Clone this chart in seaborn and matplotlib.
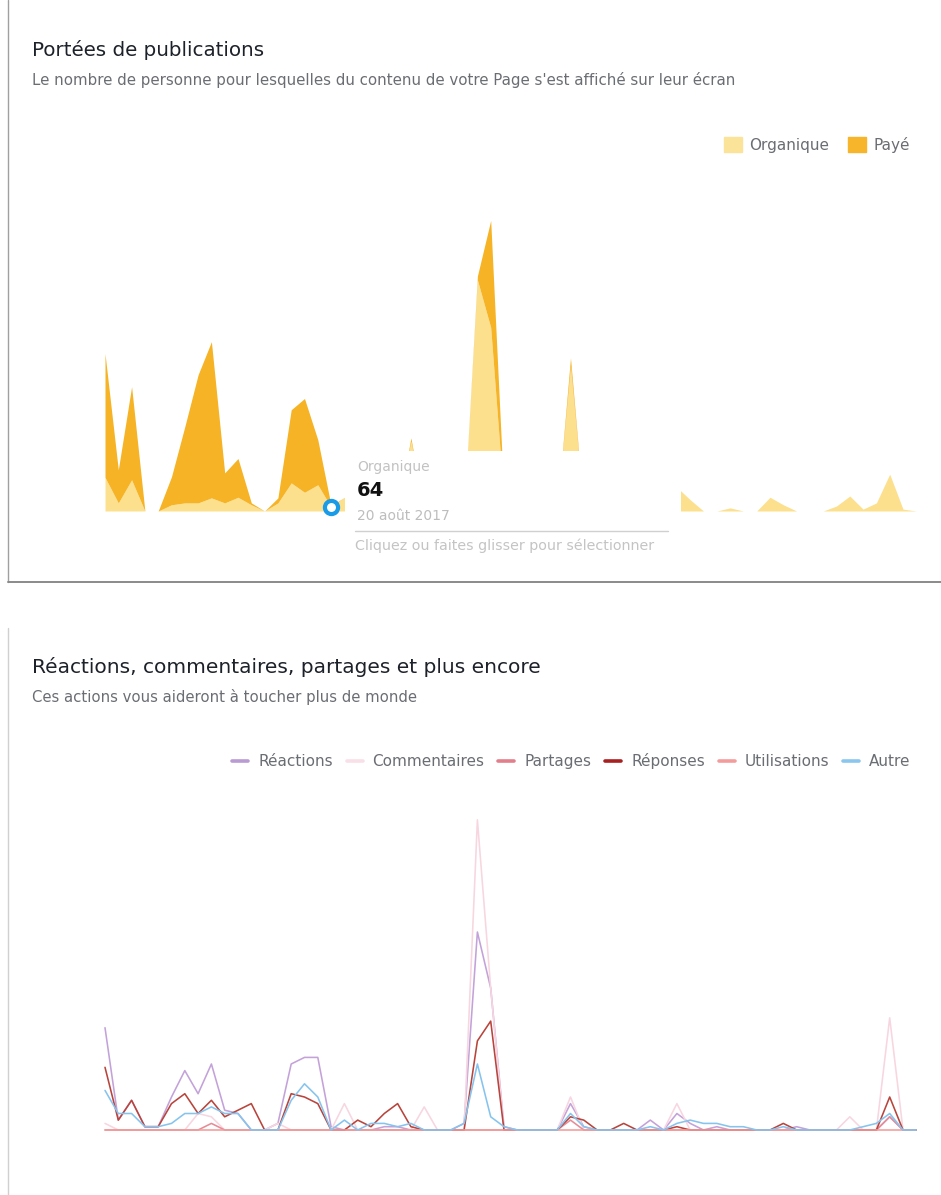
import numpy as np
import pandas as pd
import matplotlib.pyplot as plt
import seaborn as sns
from matplotlib.patches import Patch, Rectangle
from matplotlib.lines import Line2D

sns.set_theme(style='white')
plt.rcParams['font.family'] = ['DejaVu Sans']

# données (62 jours à partir du 3 août 2017)
jours = pd.date_range('2017-08-03', periods=62, freq='D')

# portée des publications (personnes)
organique = [540, 130, 500, 0, 0, 100, 130, 130, 210, 130,
             220, 100, 0, 130, 450, 300, 420, 64, 220, 0,
             0, 0, 0, 1120, 0, 0, 0, 0, 3700, 2940,
             160, 0, 0, 0, 0, 2320, 0, 0, 0, 0,
             0, 0, 0, 380, 180, 0, 0, 50, 0, 0,
             220, 100, 0, 0, 0, 80, 240, 30, 130, 590,
             30, 0]
paye = [1980, 530, 1490, 0, 0, 450, 1220, 2050, 2500, 480,
        620, 30, 0, 80, 1170, 1500, 720, 20, 0, 0,
        0, 0, 0, 50, 0, 0, 0, 0, 60, 1710,
        50, 0, 0, 0, 0, 130, 0, 0, 0, 0,
        0, 0, 0, 0, 0, 0, 0, 0, 0, 0,
        0, 0, 0, 0, 0, 0, 0, 0, 0, 0,
        0, 0]

# réactions, commentaires, partages...
reactions = [31, 3, 9, 1, 1, 10, 18, 11, 20, 6,
             5, 0, 0, 2, 20, 22, 22, 1, 0, 0,
             0, 1, 1, 0, 0, 0, 0, 2, 60, 43,
             1, 0, 0, 0, 0, 8, 1, 0, 0, 0,
             0, 3, 0, 5, 2, 0, 1, 0, 0, 0,
             0, 0, 1, 0, 0, 0, 0, 0, 0, 4,
             0, 0]
commentaires = [2, 0, 0, 0, 0, 0, 0, 5, 4, 0,
                0, 0, 0, 2, 0, 0, 0, 0, 8, 0,
                0, 0, 0, 0, 7, 0, 0, 0, 94, 43,
                0, 0, 0, 0, 0, 10, 0, 0, 0, 0,
                0, 0, 0, 8, 0, 0, 0, 0, 0, 0,
                0, 0, 0, 0, 0, 0, 4, 0, 0, 34,
                0, 0]
partages = [0, 0, 0, 0, 0, 0, 0, 0, 2, 0,
            0, 0, 0, 0, 0, 0, 0, 0, 0, 0,
            0, 0, 0, 0, 0, 0, 0, 0, 0, 0,
            0, 0, 0, 0, 0, 3, 0, 0, 0, 0,
            0, 0, 0, 0, 0, 0, 0, 0, 0, 0,
            0, 0, 0, 0, 0, 0, 0, 0, 0, 4,
            0, 0]
reponses = [19, 3, 9, 1, 1, 8, 11, 5, 9, 4,
            6, 8, 0, 0, 11, 10, 8, 0, 0, 3,
            1, 5, 8, 1, 0, 0, 0, 0, 27, 33,
            0, 0, 0, 0, 0, 4, 3, 0, 0, 2,
            0, 0, 0, 1, 0, 0, 0, 0, 0, 0,
            0, 2, 0, 0, 0, 0, 0, 0, 0, 10,
            0, 0]
utilisations = [0] * 62
autre = [12, 5, 5, 1, 1, 2, 5, 5, 7, 5,
         5, 0, 0, 0, 9, 14, 10, 0, 3, 0,
         2, 2, 1, 2, 0, 0, 0, 2, 20, 4,
         1, 0, 0, 0, 0, 5, 1, 0, 0, 0,
         0, 1, 0, 2, 3, 2, 2, 1, 1, 0,
         0, 1, 0, 0, 0, 0, 0, 1, 2, 5,
         0, 0]

series = ['Réactions', 'Commentaires', 'Partages', 'Réponses', 'Utilisations', 'Autre']
couleurs = ['#c3a2d9', '#f7d6e0', '#e68c97', '#b8443c', '#f39c9a', '#86c4ee']
legende_couleurs = ['#b99bd3', '#f9dfe7', '#e27f8a', '#a8201f', '#f49c9c', '#8ac6ee']

W, H = 941, 1195


def fx(px):
    return px / W


def fy(py):
    return 1 - py / H


fig = plt.figure(figsize=(W / 100, H / 100), dpi=100)
fig.patch.set_facecolor('white')

titre = '#1d2129'
gris = '#6a6d72'

# ---- panneau 1 : portée
fig.text(fx(32), fy(50), 'Portées de publications', fontsize=14.3, color=titre, va='center')
fig.text(fx(32), fy(80), "Le nombre de personne pour lesquelles du contenu de votre Page s'est affiché sur leur écran",
         fontsize=10.8, color=gris, va='center')

ax1 = fig.add_axes([fx(105), fy(511), fx(916.3) - fx(105), 300 / H])
ax1.stackplot(jours, organique, paye, colors=['#fce08e', '#f5b325'], linewidth=0)
ax1.set_xlim(jours[0], jours[-1])
ax1.set_ylim(0, 4800)
ax1.set_axis_off()

# point survolé
ax1.scatter([jours[17]], [organique[17]], s=90, facecolor='white', edgecolor='#1a9be8',
            linewidth=3, zorder=20, clip_on=False)

ax1.legend(handles=[Patch(color='#fce39a'), Patch(color='#f6b52a')], labels=['Organique', 'Payé'],
           ncol=2, frameon=False, loc='center right', bbox_to_anchor=(fx(918), fy(145)),
           bbox_transform=fig.transFigure, fontsize=11, labelcolor=gris,
           handlelength=1.2, handleheight=1.1, handletextpad=0.5, columnspacing=1.2, borderpad=0)

# info-bulle
fig.add_artist(Rectangle((fx(345), fy(560)), fx(681) - fx(345), (560 - 451) / H,
                         transform=fig.transFigure, facecolor='white', edgecolor='none', zorder=10))
fig.text(fx(357), fy(467), 'Organique', fontsize=10, color='#c2c2c2', va='center', zorder=11)
fig.text(fx(357), fy(491), f'{organique[17]}', fontsize=14, color='#111111', va='center',
         fontweight='bold', zorder=11)
fig.text(fx(357), fy(516), '20 août 2017', fontsize=10, color='#bdbdbd', va='center', zorder=11)
fig.add_artist(Line2D([fx(355), fx(668)], [fy(531), fy(531)], transform=fig.transFigure,
                      color='#d0d0d0', lw=1, zorder=11))
fig.text(fx(355), fy(546), 'Cliquez ou faites glisser pour sélectionner', fontsize=10.3,
         color='#c4c4c4', va='center', zorder=11)

# bordures du cadre
fig.add_artist(Line2D([fx(8), fx(8)], [fy(0), fy(582)], transform=fig.transFigure, color='#a0a0a0', lw=1))
fig.add_artist(Line2D([fx(8), fx(941)], [fy(582), fy(582)], transform=fig.transFigure, color='#8a8a8a', lw=1.4))
fig.add_artist(Line2D([fx(8), fx(8)], [fy(628), fy(1195)], transform=fig.transFigure, color='#d0d0d0', lw=1))

# ---- panneau 2 : interactions
fig.text(fx(32), fy(667), 'Réactions, commentaires, partages et plus encore', fontsize=14.5, color=titre, va='center')
fig.text(fx(32), fy(697), 'Ces actions vous aideront à toucher plus de monde', fontsize=10.7, color=gris, va='center')

df = pd.DataFrame({
    'jour': np.tile(jours, 6),
    'serie': np.repeat(series, 62),
    'valeur': reactions + commentaires + partages + reponses + utilisations + autre,
})

ax2 = fig.add_axes([fx(105), fy(1130), fx(916.3) - fx(105), 330 / H])
sns.lineplot(data=df, x='jour', y='valeur', hue='serie', hue_order=series,
             palette=dict(zip(series, couleurs)), linewidth=1.15, legend=False, ax=ax2)
ax2.set_xlim(jours[0], jours[-1])
ax2.set_ylim(0, 100)
for ln in ax2.lines:
    ln.set_clip_on(False)
ax2.set_axis_off()

ax2.legend(handles=[Line2D([], [], color=c, lw=2.6) for c in legende_couleurs], labels=series,
           ncol=6, frameon=False, loc='center right', bbox_to_anchor=(fx(918), fy(761)),
           bbox_transform=fig.transFigure, fontsize=11, labelcolor=gris,
           handlelength=1.05, handletextpad=0.65, columnspacing=0.9, borderpad=0)

fig.savefig('out.png', dpi=100, facecolor='white')
